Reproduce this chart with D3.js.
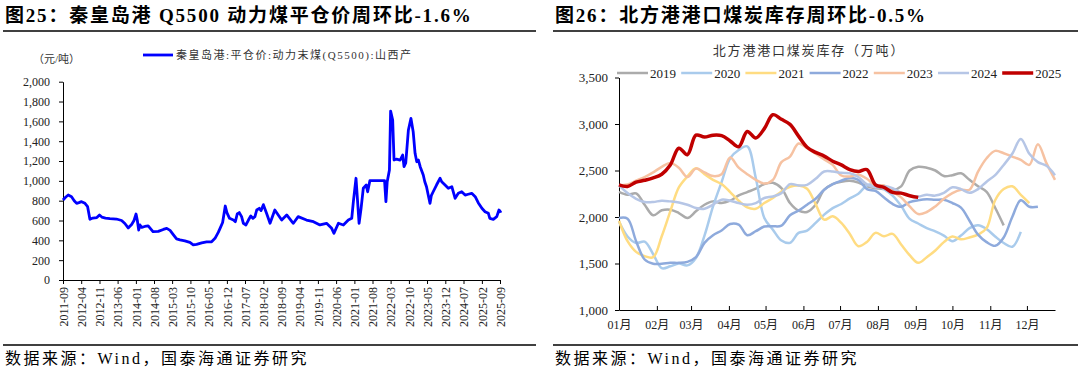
<!DOCTYPE html>
<html>
<head>
<meta charset="utf-8">
<script src="https://cdn.jsdelivr.net/npm/d3@7"></script>
<style>
  body { margin: 0; background: #fff; }
  svg { display: block; }
</style>
</head>
<body>
<div id="chart"></div>
<script>
// ---------- data: left chart (Qinhuangdao Q5500 price, yuan/ton) ----------
var priceSeries = [
  ['2011-09-01', 807], ['2011-10-01', 835], ['2011-11-01', 857], ['2011-12-10', 840],
  ['2012-01-10', 800], ['2012-02-08', 773], ['2012-03-05', 780], ['2012-04-05', 790],
  ['2012-05-15', 773], ['2012-06-15', 740], ['2012-07-12', 612], ['2012-08-15', 625],
  ['2012-10-01', 630], ['2012-11-01', 655], ['2012-11-28', 635], ['2013-01-10', 625],
  ['2013-03-03', 620], ['2013-05-18', 615], ['2013-07-18', 600], ['2013-08-25', 570],
  ['2013-10-03', 525], ['2013-11-12', 560], ['2013-12-10', 600], ['2014-01-03', 666],
  ['2014-01-18', 600], ['2014-02-03', 504], ['2014-02-18', 555], ['2014-03-10', 530],
  ['2014-04-15', 540], ['2014-05-25', 545], ['2014-07-20', 487], ['2014-09-20', 490],
  ['2014-11-18', 510], ['2014-12-28', 521], ['2015-02-05', 500], ['2015-03-12', 460],
  ['2015-04-22', 415], ['2015-06-01', 405], ['2015-07-28', 395], ['2015-09-25', 380],
  ['2015-11-03', 355], ['2015-12-12', 360], ['2016-02-10', 375], ['2016-04-08', 385],
  ['2016-06-05', 386], ['2016-07-15', 420], ['2016-08-22', 480], ['2016-09-12', 521],
  ['2016-10-12', 580], ['2016-11-12', 746], ['2016-12-01', 680], ['2017-01-01', 622],
  ['2017-02-15', 605], ['2017-03-10', 588], ['2017-04-01', 666], ['2017-04-25', 680],
  ['2017-05-22', 639], ['2017-06-12', 572], ['2017-07-12', 555], ['2017-08-10', 605],
  ['2017-09-06', 645], ['2017-10-01', 622], ['2017-10-25', 639], ['2017-11-15', 706],
  ['2017-12-15', 723], ['2018-01-05', 700], ['2018-02-01', 760], ['2018-03-10', 673],
  ['2018-04-20', 572], ['2018-06-15', 706], ['2018-07-25', 656], ['2018-09-03', 605],
  ['2018-11-01', 656], ['2019-01-01', 588], ['2019-01-18', 572], ['2019-03-15', 639],
  ['2019-06-20', 605], ['2019-09-10', 588], ['2019-11-25', 555], ['2020-02-10', 572],
  ['2020-04-10', 521], ['2020-05-06', 471], ['2020-06-28', 572], ['2020-08-25', 555],
  ['2020-10-22', 605], ['2020-12-01', 622], ['2020-12-20', 790], ['2021-01-20', 1026],
  ['2021-02-25', 572], ['2021-03-20', 720], ['2021-04-15', 925], ['2021-05-20', 958],
  ['2021-06-05', 890], ['2021-07-01', 1002], ['2021-12-20', 1002], ['2022-01-05', 790],
  ['2022-01-20', 991], ['2022-02-15', 1109], ['2022-03-01', 1704], ['2022-03-25', 1614],
  ['2022-04-10', 1210], ['2022-05-10', 1220], ['2022-06-20', 1210], ['2022-07-20', 1260],
  ['2022-08-05', 1143], ['2022-08-25', 1180], ['2022-09-25', 1513], ['2022-10-25', 1630],
  ['2022-11-20', 1496], ['2022-12-12', 1278], ['2023-01-01', 1193], ['2023-01-20', 1210],
  ['2023-02-10', 1143], ['2023-03-18', 1059], ['2023-04-05', 991], ['2023-04-25', 941],
  ['2023-05-15', 857], ['2023-06-05', 773], ['2023-06-20', 850], ['2023-07-12', 890],
  ['2023-08-20', 958], ['2023-10-01', 1026], ['2023-10-20', 991], ['2023-11-28', 958],
  ['2024-01-05', 925], ['2024-02-15', 941], ['2024-03-25', 824], ['2024-05-01', 874],
  ['2024-06-10', 890], ['2024-07-20', 857], ['2024-08-25', 865], ['2024-10-05', 874],
  ['2024-11-15', 840], ['2024-12-20', 780], ['2025-02-01', 723], ['2025-03-10', 689],
  ['2025-04-18', 672], ['2025-05-05', 622], ['2025-06-15', 612], ['2025-07-25', 639],
  ['2025-08-20', 706], ['2025-09-05', 690], ['2025-09-10', 679]
];
var priceTickLabels = ['2011-09', '2012-04', '2012-11', '2013-06', '2014-01', '2014-08',
  '2015-03', '2015-10', '2016-05', '2016-12', '2017-07', '2018-02', '2018-09', '2019-04',
  '2019-11', '2020-06', '2021-01', '2021-08', '2022-03', '2022-10', '2023-05', '2023-12',
  '2024-07', '2025-02', '2025-09'];
var priceYTicks = [0, 200, 400, 600, 800, 1000, 1200, 1400, 1600, 1800, 2000];
var priceLegend = '秦皇岛港:平仓价:动力末煤(Q5500):山西产';

// ---------- data: right chart (northern port coal inventory, 10k tons, weekly) ----------
var monthLabels = ['01月', '02月', '03月', '04月', '05月', '06月', '07月', '08月', '09月', '10月', '11月', '12月'];
var invYTicks = [1000, 1500, 2000, 2500, 3000, 3500];
var yearNames = ['2019', '2020', '2021', '2022', '2023', '2024', '2025'];
var inv2019 = [2270, 2239, 2254, 2132, 2018, 2072, 2079, 2043, 1989, 2061,
  2132, 2168, 2150, 2175, 2232, 2268, 2304, 2354, 2368, 2311,
  2150, 2068, 2054, 2132, 2293, 2354, 2380, 2390, 2370, 2330,
  2310, 2300, 2290, 2330, 2500, 2540, 2530, 2500, 2440, 2450,
  2470, 2400, 2330, 2270, 2100, 1910];
var inv2020 = [1950, 1790, 1720, 1735, 1600, 1450, 1470, 1500, 1480, 1560,
  1800, 2114, 2375, 2632, 2720, 2760, 2420, 1990, 1864, 1747,
  1722, 1829, 1854, 1936, 2025, 2096, 2140, 2200, 2250, 2340,
  2350, 2300, 2230, 2120, 1980, 1930, 1880, 1845, 1800, 1740,
  1800, 1880, 1910, 1870, 1790, 1720, 1680, 1840];
var inv2021 = [1960, 1740, 1625, 1579, 1568, 1793, 2061, 2318, 2436, 2525,
  2461, 2400, 2354, 2268, 2175, 2104, 2089, 2150, 2204, 2275,
  2325, 2339, 2304, 2139, 1971, 2007, 1936, 1818, 1686, 1732,
  1829, 1793, 1818, 1704, 1589, 1507, 1568, 1640, 1730, 1790,
  1760, 1780, 1810, 1880, 2180, 2300, 2330, 2239, 2150];
var inv2022 = [1990, 1982, 1740, 1543, 1497, 1497, 1507, 1507, 1518, 1568,
  1722, 1804, 1854, 1925, 1918, 1804, 1847, 1897, 1900, 1907,
  2018, 2068, 2132, 2196, 2293, 2354, 2390, 2420, 2400, 2300,
  2280, 2210, 2140, 2110, 2160, 2180, 2190, 2185, 2186, 2150,
  2100, 1960, 1810, 1730, 1690, 1780, 2000, 2180, 2110, 2110];
var inv2023 = [2340, 2350, 2390, 2430, 2480, 2540, 2580, 2530, 2430, 2520,
  2480, 2440, 2460, 2640, 2530, 2460, 2400, 2360, 2400, 2590,
  2650, 2790, 2740, 2680, 2620, 2560, 2446, 2436, 2454, 2411,
  2339, 2339, 2275, 2211, 2114, 2032, 2054, 2114, 2196, 2257,
  2293, 2293, 2489, 2632, 2711, 2686, 2650, 2614, 2561, 2782,
  2579, 2400];
var inv2024 = [2340, 2257, 2196, 2161, 2161, 2175, 2168, 2157, 2132, 2096,
  2089, 2132, 2186, 2175, 2150, 2132, 2150, 2204, 2221, 2257,
  2354, 2339, 2346, 2411, 2489, 2489, 2475, 2470, 2430, 2350,
  2320, 2330, 2310, 2260, 2230, 2220, 2240, 2230, 2260, 2320,
  2300, 2260, 2300, 2380, 2450, 2560, 2680, 2840, 2680, 2590,
  2550, 2450];
var inv2025 = [2346, 2329, 2375, 2395, 2420, 2460, 2560, 2740, 2670, 2880,
  2860, 2880, 2875, 2818, 2755, 2920, 2850, 2950, 3100, 3050,
  2996, 2870, 2750, 2695, 2655, 2600, 2560, 2510, 2490, 2510,
  2346, 2318, 2264, 2257, 2229, 2211];
var yearSeries = [inv2019, inv2020, inv2021, inv2022, inv2023, inv2024, inv2025];
var yearColors = ['#ababab', '#a9cbec', '#ffdc82', '#8eaadc', '#f6c2a2', '#b6c6e6', '#c00000'];

// ---------- page ----------
var serif = "'Times New Roman', 'Liberation Serif', 'Noto Sans CJK SC', serif";
var parseDay = d3.timeParse('%Y-%m-%d');
var parseMonth = d3.timeParse('%Y-%m');

var svg = d3.select('#chart')
  .append('svg')
    .attr('width', 1080)
    .attr('height', 373)
    .style('font-family', serif);

svg.append('rect').attr('width', 1080).attr('height', 373).attr('fill', '#fff');

// titles, rules and source notes
var panels = [
  {x0: 3, x1: 536, title: '图25：秦皇岛港 Q5500 动力煤平仓价周环比-1.6%'},
  {x0: 553, x1: 1078, title: '图26：北方港港口煤炭库存周环比-0.5%'}
];
panels.forEach(function(p) {
  svg.append('text')
    .attr('x', p.x0 + 2).attr('y', 22)
    .attr('font-size', 19).attr('font-weight', 'bold').attr('fill', '#000')
    .attr('letter-spacing', 1.8)
    .text(p.title);
  svg.append('line')
    .attr('x1', p.x0).attr('x2', p.x1).attr('y1', 31).attr('y2', 31)
    .attr('stroke', '#000').attr('stroke-width', 1.5);
  svg.append('line')
    .attr('x1', p.x0).attr('x2', p.x1).attr('y1', 345).attr('y2', 345)
    .attr('stroke', '#000').attr('stroke-width', 1.5);
  svg.append('text')
    .attr('x', p.x0 + 2).attr('y', 364)
    .attr('font-size', 16).attr('fill', '#000')
    .attr('letter-spacing', 2.5)
    .text('数据来源：Wind，国泰海通证券研究');
});

// ---------- left chart ----------
var xP = d3.scaleTime()
  .domain([parseDay('2011-09-01'), parseDay('2025-09-01')])
  .range([63, 500]);
var yP = d3.scaleLinear().domain([0, 2000]).range([280, 81.7]);

var gL = svg.append('g');

gL.append('g')
    .attr('transform', 'translate(63,0)')
    .call(d3.axisLeft(yP).tickValues(priceYTicks).tickFormat(d3.format(',')).tickSize(4).tickPadding(9).tickSizeOuter(0))
    .call(function(g) {
      g.selectAll('text').attr('font-size', 12).attr('font-family', serif).attr('fill', '#222');
      g.selectAll('line, path').attr('stroke', '#000');
    });

gL.append('g')
    .attr('transform', 'translate(0,280)')
    .call(d3.axisBottom(xP).tickValues(priceTickLabels.map(parseMonth)).tickFormat(d3.timeFormat('%Y-%m')).tickSize(4).tickSizeOuter(0))
    .call(function(g) {
      g.selectAll('line, path').attr('stroke', '#000');
      g.selectAll('text')
        .attr('font-size', 12).attr('font-family', serif).attr('fill', '#222')
        .attr('transform', 'rotate(-90)')
        .attr('x', -7).attr('y', 0).attr('dy', '0.35em')
        .style('text-anchor', 'end');
    });

gL.append('path')
    .datum(priceSeries)
    .attr('fill', 'none')
    .attr('stroke', '#0000ff')
    .attr('stroke-width', 2.8)
    .attr('stroke-linejoin', 'round')
    .attr('d', d3.line()
      .x(function(d) { return xP(parseDay(d[0])); })
      .y(function(d) { return yP(d[1]); }));

gL.append('text')
    .attr('x', 33).attr('y', 63)
    .attr('font-size', 11).attr('fill', '#333')
    .text('（元/吨）');

gL.append('line')
    .attr('x1', 143).attr('x2', 173).attr('y1', 55).attr('y2', 55)
    .attr('stroke', '#0000ff').attr('stroke-width', 2.8);
gL.append('text')
    .attr('x', 176).attr('y', 59)
    .attr('font-size', 11).attr('fill', '#333')
    .attr('letter-spacing', 1.5)
    .text(priceLegend);

// ---------- right chart ----------
var weekDate = function(i) { return d3.timeDay.offset(new Date(2025, 0, 1), i * 7); };
var xI = d3.scaleTime().domain([new Date(2025, 0, 1), new Date(2025, 11, 24)]).range([619, 1055]);
var yI = d3.scaleLinear().domain([1000, 3500]).range([310, 77.5]);

var gR = svg.append('g');

gR.append('g')
    .attr('transform', 'translate(619,0)')
    .call(d3.axisLeft(yI).tickValues(invYTicks).tickFormat(d3.format(',')).tickSize(4).tickPadding(7).tickSizeOuter(0))
    .call(function(g) {
      g.selectAll('text').attr('font-size', 13).attr('font-family', serif).attr('fill', '#222');
      g.selectAll('line, path').attr('stroke', '#000');
    });

gR.append('g')
    .attr('transform', 'translate(0,310)')
    .call(d3.axisBottom(xI)
      .tickValues(monthLabels.map(function(m, i) { return new Date(2025, i, 1); }))
      .tickFormat(function(d, i) { return monthLabels[i]; })
      .tickSizeInner(-4).tickSizeOuter(0).tickPadding(10))
    .call(function(g) {
      g.selectAll('line, path').attr('stroke', '#000');
      g.selectAll('text').attr('font-size', 12).attr('font-family', serif).attr('fill', '#222');
    });

var invLine = d3.line()
  .x(function(d, i) { return xI(weekDate(i)); })
  .y(function(d) { return yI(d); })
  .curve(d3.curveCatmullRom.alpha(0.5));

gR.selectAll('.year')
    .data(yearSeries)
  .enter().append('path')
    .attr('class', 'year')
    .attr('fill', 'none')
    .attr('stroke', function(d, i) { return yearColors[i]; })
    .attr('stroke-width', function(d, i) { return i === 6 ? 3.5 : 2.5; })
    .attr('stroke-linejoin', 'round')
    .attr('d', invLine);

gR.append('text')
    .attr('x', 809).attr('y', 55)
    .attr('text-anchor', 'middle')
    .attr('font-size', 13).attr('fill', '#333')
    .attr('letter-spacing', 1.8)
    .text('北方港港口煤炭库存（万吨）');

var legend = gR.selectAll('.legend')
    .data(yearNames)
  .enter().append('g')
    .attr('class', 'legend')
    .attr('transform', function(d, i) { return 'translate(' + (617 + i * 64.2) + ',73)'; });

legend.append('line')
    .attr('x1', 0).attr('x2', 31)
    .attr('stroke', function(d, i) { return yearColors[i]; })
    .attr('stroke-width', function(d, i) { return i === 6 ? 3.5 : 2.5; });

legend.append('text')
    .attr('x', 33).attr('dy', '0.35em')
    .attr('font-size', 13).attr('fill', '#222')
    .text(function(d) { return d; });
</script>
</body>
</html>
